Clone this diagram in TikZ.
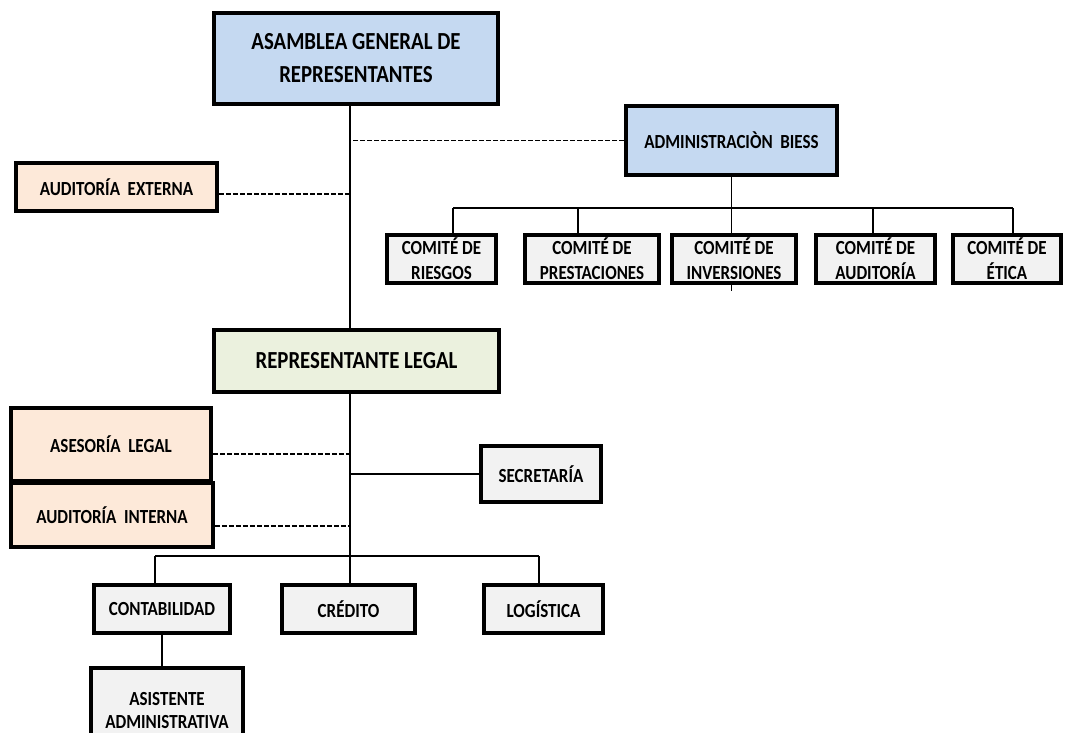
\documentclass[tikz,border=0pt]{standalone}
\usepackage{fontspec}
\setmainfont{Carlito}[FakeStretch=0.85]
\definecolor{azul}{HTML}{C5D9F1}
\definecolor{durazno}{HTML}{FDE9D9}
\definecolor{verde}{HTML}{EBF1DE}
\definecolor{gris}{HTML}{F2F2F2}
\tikzset{
  caja/.style={draw, line width=3.6pt, rectangle, align=center, inner sep=0pt,
    font=\bfseries\fontsize{20}{25}\selectfont},
  cajagrande/.style={caja, font=\bfseries\fontsize{24.5}{33}\selectfont},
  linea/.style={line width=1.5pt},
  guion/.style={line width=1.8pt, dash pattern=on 5pt off 2pt},
}
\begin{document}
\begin{tikzpicture}[x=1pt,y=1pt]
    \useasboundingbox (0,0) rectangle (1065,-733);
    \node[cajagrande, fill=azul, minimum width=284pt, minimum height=91pt] (asamblea) at (356,-58.5) {ASAMBLEA GENERAL DE\\REPRESENTANTES};
    \node[caja, fill=azul, minimum width=211pt, minimum height=69pt] (admin) at (731.5,-140.5) {ADMINISTRACIÒN~~BIESS};
    \node[caja, fill=durazno, minimum width=201pt, minimum height=48pt] (audext) at (116.5,-187) {AUDITORÍA~~EXTERNA};
    \foreach \n/\x/\w/\t in {riesgos/441.5/109/RIESGOS, prestaciones/592/134/PRESTACIONES, inversiones/734/124/INVERSIONES, auditoria/875.5/119/AUDITORÍA, etica/1007/108/ÉTICA} {
        \node[caja, fill=gris, minimum width=\w pt, minimum height=48pt] (\n) at (\x,-259) {COMITÉ~DE\\\t};
    }
    \node[cajagrande, fill=verde, minimum width=285pt, minimum height=62pt] (rl) at (356.5,-361) {REPRESENTANTE LEGAL};
    \node[caja, fill=durazno, minimum width=200pt, minimum height=73pt] (asesoria) at (111,-444.5) {ASESORÍA~~LEGAL};
    \node[caja, fill=gris, minimum width=120pt, minimum height=56pt] (secretaria) at (541,-474) {SECRETARÍA};
    \node[caja, fill=durazno, minimum width=202pt, minimum height=64pt] (audint) at (112,-515) {AUDITORÍA~~INTERNA};
    \node[caja, fill=gris, minimum width=136pt, minimum height=48pt] (contabilidad) at (162,-609) {CONTABILIDAD};
    \node[caja, fill=gris, minimum width=133pt, minimum height=48pt] (credito) at (348.5,-609) {CRÉDITO};
    \node[caja, fill=gris, minimum width=119pt, minimum height=48pt] (logistica) at (543.5,-609) {LOGÍSTICA};
    \node[caja, fill=gris, minimum width=152pt, minimum height=86pt, font=\bfseries\fontsize{20}{23}\selectfont] (asistente) at (167,-711) {ASISTENTE\\ADMINISTRATIVA};
    \coordinate (tronco) at (350,0);
    \draw[linea] (asamblea.south -| tronco) -- (rl.north -| tronco);
    \draw[linea] (rl.south -| tronco) -- (credito.north -| tronco);
    \draw[guion] (admin.west) -- (admin.west -| tronco);
    \foreach \n/\y in {audext/-194, asesoria/-454, audint/-526} {
        \draw[guion] (\n.east |- 0,\y) -- (tronco |- 0,\y);
    }
    \draw[linea] (secretaria.west) -- (secretaria.west -| tronco);
    \draw[linea] (admin.south) -- (admin.south |- inversiones.north);
    \draw[linea] (admin.south |- inversiones.south) -- ++(0,-6);
    \draw[linea] (453,-208) -- (1013,-208);
    \foreach \n/\x in {riesgos/453, prestaciones/578, auditoria/873, etica/1013} {
        \draw[linea] (\x,-208) -- (\x,0 |- \n.north);
    }
    \draw[linea] (155,-556) -- (539,-556);
    \foreach \n/\x in {contabilidad/155, logistica/539} {
        \draw[linea] (\x,-556) -- (\x,0 |- \n.north);
    }
    \draw[linea] (contabilidad.south) -- (contabilidad.south |- asistente.north);
\end{tikzpicture}
\end{document}
